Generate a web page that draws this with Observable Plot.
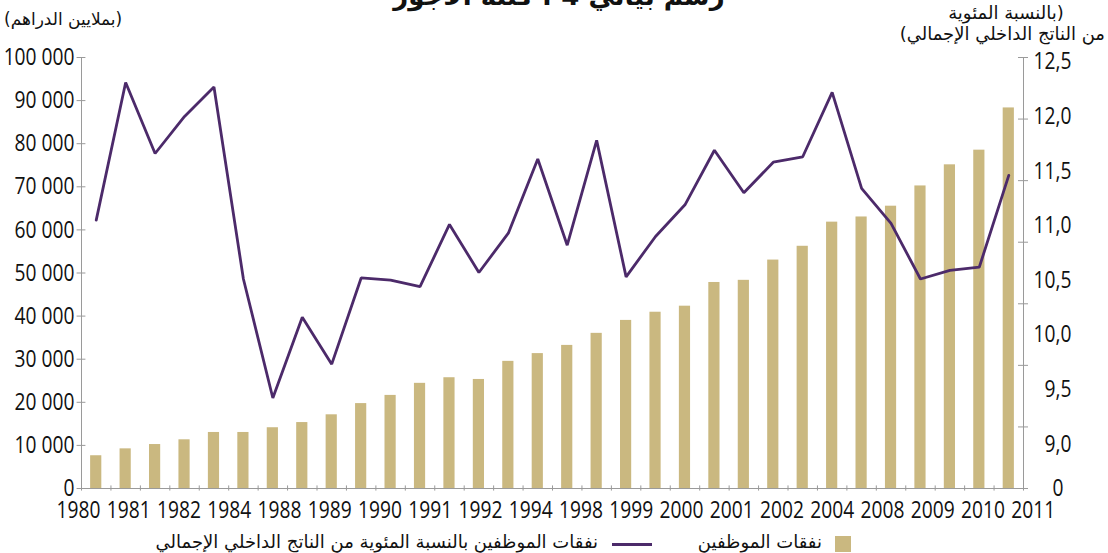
<!DOCTYPE html>
<html>
<head>
<meta charset="utf-8">
<script src="https://cdn.jsdelivr.net/npm/d3@7"></script>
<script src="https://cdn.jsdelivr.net/npm/@observablehq/plot@0.6"></script>
<style>
  html, body { margin: 0; padding: 0; background: #fff; }
  #wrap { position: relative; width: 1108px; height: 553px; overflow: hidden; }
  #wrap svg { position: absolute; left: 0; top: 0; }
  .ar { position: absolute; direction: rtl; white-space: nowrap; font-family: "DejaVu Sans", "Noto Sans", sans-serif; color: #111; line-height: 1; }
  .sw { position: absolute; }
</style>
</head>
<body>
<div id="wrap"></div>
<script>
// ---- data ----
const years = [1980,1981,1982,1983,1984,1985,1986,1987,1988,1989,1990,1991,1992,1993,1994,1995,
               1996,1997,1998,1999,2000,2001,2002,2003,2004,2005,2006,2007,2008,2009,2010,2011];
const wageBill = [7600, 9200, 10200, 11300, 13000, 13000, 14100, 15300, 17100, 19700, 21600, 24400,
                  25700, 25300, 29500, 31300, 33200, 36000, 39000, 40900, 42300, 47800, 48300, 53000,
                  56200, 61800, 63000, 65500, 70200, 75100, 78500, 88300];
const pctGDP = [11.05, 12.31, 11.66, 12.00, 12.27, 10.51, 9.42, 10.16, 9.73, 10.52, 10.50, 10.44,
                11.01, 10.57, 10.93, 11.61, 10.82, 11.78, 10.53, 10.90, 11.19, 11.69, 11.30, 11.58,
                11.63, 12.22, 11.34, 11.02, 10.51, 10.59, 10.62, 11.46];
const xLabels = ["1980","1981","1982","1984","1988","1989","1990","1991","1992","1994",
                 "1998","1999","2000","2001","2002","2004","2008","2009","2010","2011"];
const leftTicks = [0,10000,20000,30000,40000,50000,60000,70000,80000,90000,100000];
const rightLabels = [9.0, 9.5, 10.0, 10.5, 11.0, 11.5, 12.0, 12.5];

const titleText = "رسم بياني 4 : كتلة الأجور";
const leftTitle = "(بملايين الدراهم)";
const rightTitle1 = "(بالنسبة المئوية";
const rightTitle2 = "من الناتج  الداخلي الإجمالي)";
const legendBars = "نفقات الموظفين";
const legendLine = "نفقات الموظفين بالنسبة المئوية من الناتج  الداخلي الإجمالي";

// ---- scales helpers ----
const barColor = "#cab880";
const lineColor = "#4c2a6a";
const axisColor = "#9a9a9a";
const n = years.length;
// secondary (percent) axis mapped into the primary value domain
const pctToY = d3.scaleLinear().domain([9, 12.5]).range([10360, 99000]);
const rightTicks = d3.range(0, 8).map(k => 100000 * k / 7);
const labelStep = (n + 0.43) / (xLabels.length - 1);
const labelPos = xLabels.map((_, i) => -0.1 + i * labelStep);

const table = years.map((y, i) => ({i, year: y, wage: wageBill[i], pct: pctGDP[i]}));
const fmtLeft = d => d3.format(",")(d).replace(/,/g, " ");
const fmtRight = d => d3.format(".1f")(d).replace(".", ",");

const tickFont = "'Open Sans', 'DejaVu Sans', sans-serif";

const chart = Plot.plot({
  width: 1108,
  height: 553,
  marginLeft: 81,
  marginRight: 85,
  marginTop: 57,
  marginBottom: 65,
  style: {fontFamily: tickFont, fontSize: "24px", color: "#111", background: "white"},
  x: {type: "linear", domain: [0, n], axis: null},
  y: {domain: [0, 100000], axis: null},
  marks: [
    Plot.rectY(table, {x1: d => d.i + 0.31, x2: d => d.i + 0.69, y1: 0, y2: "wage", fill: barColor}),
    Plot.ruleX([0, n], {stroke: axisColor, strokeWidth: 1}),
    Plot.ruleY([0], {stroke: axisColor, strokeWidth: 1}),
    Plot.ruleY(leftTicks, {x1: -0.15, x2: 0.15, stroke: axisColor}),
    Plot.ruleY(rightTicks, {x1: n - 0.17, x2: n + 0.17, stroke: axisColor}),
    Plot.ruleX(d3.range(0, n + 1), {y1: -600, y2: 600, stroke: axisColor}),
    Plot.line(table, {x: d => d.i + 0.5, y: d => pctToY(d.pct), stroke: lineColor, strokeWidth: 2.8, strokeLinejoin: "miter"}),
    Plot.axisY({ticks: leftTicks, tickFormat: fmtLeft, tickSize: 0, tickPadding: 7, anchor: "left", label: null, fill: "#111"}),
    Plot.text(rightLabels, {y: d => pctToY(d), text: fmtRight, frameAnchor: "right", dx: 48, textAnchor: "end", fill: "#111"}),
    Plot.text([0], {y: d => d, text: d => String(d), frameAnchor: "right", dx: 40, textAnchor: "end", fill: "#111"}),
    Plot.axisX({ticks: labelPos, tickFormat: (d, i) => xLabels[i], tickSize: 0, tickPadding: 12, anchor: "bottom", label: null, fill: "#111"})
  ]
});

const wrap = document.getElementById("wrap");
wrap.appendChild(chart);

// horizontally condense the numeric tick labels (keeps their anchors)
d3.select(chart).selectAll("text").each(function () {
  const L = this.getComputedTextLength();
  if (L > 0) {
    this.setAttribute("textLength", (L * 0.8).toFixed(2));
    this.setAttribute("lengthAdjust", "spacingAndGlyphs");
  }
});

function addText(txt, css) {
  const d = document.createElement("div");
  d.className = "ar";
  d.textContent = txt;
  Object.assign(d.style, css);
  wrap.appendChild(d);
  return d;
}
addText(titleText, {left: "383px", width: "352px", textAlign: "center", top: "-17px", fontSize: "26px", fontWeight: "bold"});
addText(leftTitle, {left: "4px", top: "11px", fontSize: "17px"});
addText(rightTitle1, {left: "906px", width: "200px", textAlign: "center", top: "4px", fontSize: "18px"});
addText(rightTitle2, {right: "3px", top: "25px", fontSize: "18px"});
addText(legendLine, {right: "510px", top: "533px", fontSize: "18px"});
addText(legendBars, {right: "286px", top: "533px", fontSize: "18px"});

const sw1 = document.createElement("div");
sw1.className = "sw";
Object.assign(sw1.style, {left: "612px", top: "543px", width: "40px", height: "3px", background: lineColor});
wrap.appendChild(sw1);
const sw2 = document.createElement("div");
sw2.className = "sw";
Object.assign(sw2.style, {left: "835px", top: "536px", width: "16px", height: "16px", background: barColor});
wrap.appendChild(sw2);
</script>
</body>
</html>
